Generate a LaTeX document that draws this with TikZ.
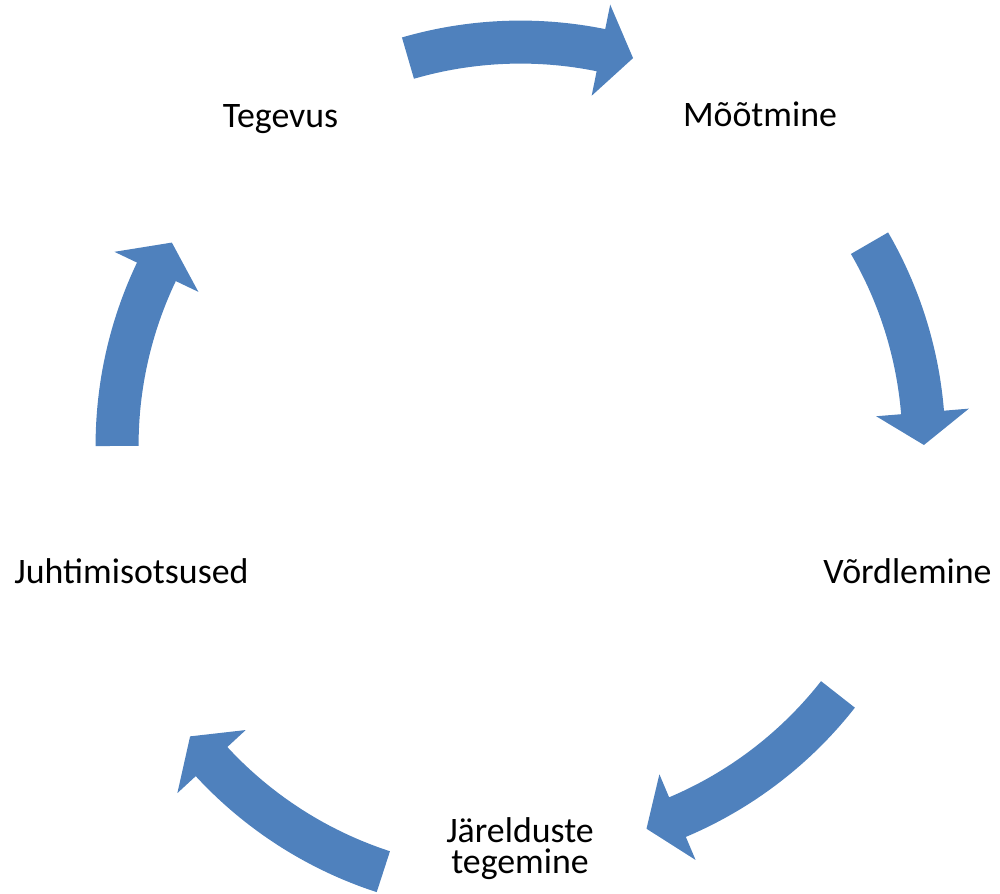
\documentclass[tikz,border=0pt]{standalone}
\usepackage{fontspec}
\setmainfont{Carlito}
\usetikzlibrary{positioning,calc}
\definecolor{cycleblue}{RGB}{79,129,189}
\tikzset{
	phase/.style={
		anchor=base, inner sep=0pt, align=center,
		font=\fontsize{20.4}{17.5}\selectfont
	},
	%
	cyclearrow/.style={
		fill=cycleblue, draw=none
	}
}

\begin{document}
\begin{tikzpicture}[x=0.02cm, y=0.02cm]
    \useasboundingbox (0,0) rectangle (1000,893);
    \coordinate(C) at (520.5,447.5);
    \coordinate(Cbl) at (508,405);
    \node(Teg)[phase] at (280.5,765){Tegevus};
    \node(Moot)[phase] at (760,766){Mõõtmine};
    \node(Vord)[phase] at (907.5,310){Võrdlemine};
    \node(Jar)[phase] at (520,20){Järelduste\\tegemine};
    \node(Juht)[phase] at (131.5,310){Juhtimisotsused};
    % tail angle / head base angle / tip angle
    \foreach \c/\ta/\tb/\tt in {C/106.2/78.5/73.8, C/30.1/4.7/0.07, C/-38.1/-67.1/-71.8, Cbl/-108/-137.3/-142, C/180.07/154.5/149.8}
    {
        \fill[cyclearrow] ($(\c)+(\ta:8.5cm)$) arc[start angle=\ta, end angle=\tb, radius=8.5cm] -- ($(\c)+(\tb:9cm)$) -- ($(\c)+(\tt:8.07cm)$) -- ($(\c)+(\tb:7.14cm)$) -- ($(\c)+(\tb:7.64cm)$) arc[start angle=\tb, end angle=\ta, radius=7.64cm] -- cycle;
    }
\end{tikzpicture}
\end{document}
